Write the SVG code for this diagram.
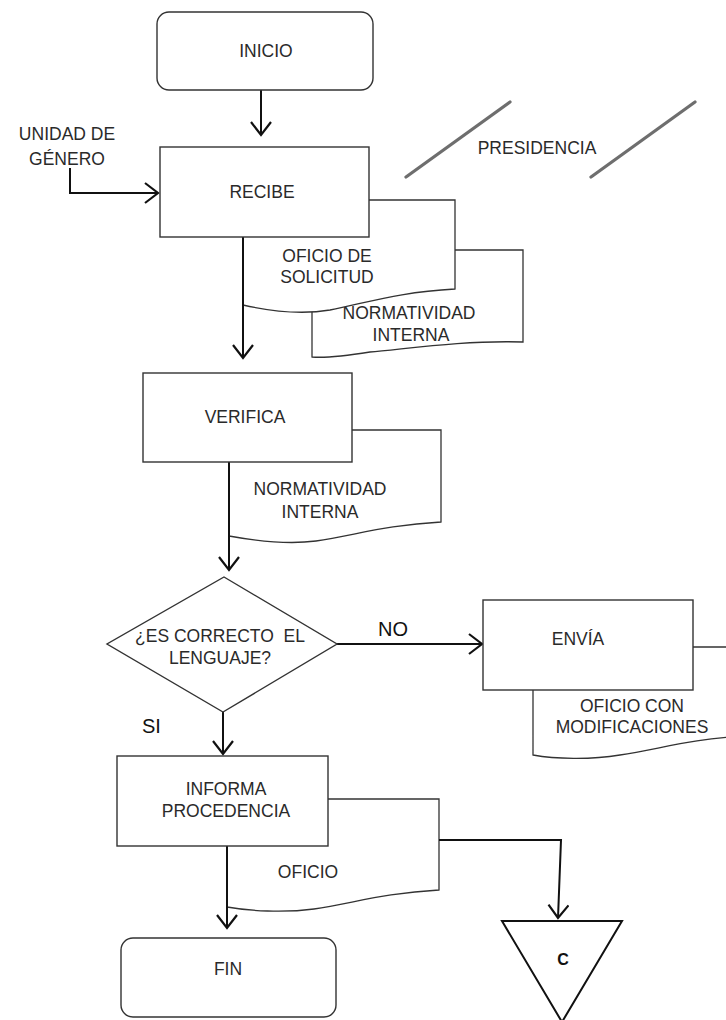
<svg xmlns="http://www.w3.org/2000/svg" width="726" height="1020" viewBox="0 0 726 1020">
  <defs>
    <style>
      .box { fill: #ffffff; stroke: #333333; stroke-width: 1.4; }
      .doc { fill: #ffffff; stroke: #333333; stroke-width: 1.3; }
      .txt { font-family: "Liberation Sans", Arial, sans-serif; font-size: 17.5px; fill: #2a2a2a; text-anchor: middle; }
      .lbl { font-family: "Liberation Sans", Arial, sans-serif; font-size: 20px; fill: #111111; }
      .conn { fill: none; stroke: #111111; stroke-width: 2; }
      .lane { stroke: #555555; stroke-width: 3.2; stroke-linecap: round; opacity: 0.85; }
    </style>
    <marker id="arrow" markerUnits="userSpaceOnUse" markerWidth="16" markerHeight="22" viewBox="0 0 16 22" refX="14" refY="11" orient="auto">
      <path d="M1,1 L14,11 L1,21" fill="none" stroke="#111111" stroke-width="2.2"/>
    </marker>
  </defs>

  <rect width="726" height="1020" fill="#ffffff"/>

  <!-- swimlane marker for PRESIDENCIA -->
  <g id="presidencia">
    <line class="lane" x1="406" y1="177" x2="510" y2="102"/>
    <line class="lane" x1="591" y1="177" x2="695" y2="102"/>
    <text class="txt" x="537" y="154">PRESIDENCIA</text>
  </g>

  <!-- external source -->
  <g id="unidad-genero">
    <text class="txt" x="67" y="140">UNIDAD DE</text>
    <text class="txt" x="67" y="165">GÉNERO</text>
  </g>

  <!-- documents (drawn behind the process boxes) -->
  <g id="doc-normatividad-1">
    <path class="doc" d="M312,250 H523 V342 C460,340 400,350 370,352 C345,356 325,358 312,357 Z"/>
    <text class="txt" x="409" y="319">NORMATIVIDAD</text>
    <text class="txt" x="411" y="341">INTERNA</text>
  </g>
  <g id="doc-oficio-solicitud">
    <path class="doc" d="M243,200 H455 V289 C400,292 370,302 330,310 C300,315 265,310 243,305 Z"/>
    <text class="txt" x="327" y="262">OFICIO DE</text>
    <text class="txt" x="327" y="283">SOLICITUD</text>
  </g>
  <g id="doc-normatividad-2">
    <path class="doc" d="M229,430 H441 V522 C386,525 356,535 316,541 C286,545 251,540 229,536 Z"/>
    <text class="txt" x="320" y="495">NORMATIVIDAD</text>
    <text class="txt" x="320" y="518">INTERNA</text>
  </g>
  <g id="doc-oficio-modificaciones">
    <path class="doc" d="M533,647 H745 V736 C690,739 660,749 620,755 C590,760 555,759 533,755 Z"/>
    <text class="txt" x="632" y="712">OFICIO CON</text>
    <text class="txt" x="632" y="733">MODIFICACIONES</text>
  </g>
  <g id="doc-oficio">
    <path class="doc" d="M227,799 H439 V890 C384,893 354,903 314,909 C284,913 249,911 227,907 Z"/>
    <text class="txt" x="308" y="878">OFICIO</text>
  </g>

  <!-- connectors -->
  <g id="connectors">
    <line class="conn" x1="261" y1="90" x2="261" y2="135" marker-end="url(#arrow)"/>
    <path class="conn" d="M70,168 V193 H158" stroke-width="3" marker-end="url(#arrow)"/>
    <line class="conn" x1="243" y1="237" x2="243" y2="358" marker-end="url(#arrow)"/>
    <line class="conn" x1="229" y1="462" x2="229" y2="570" marker-end="url(#arrow)"/>
    <line class="conn" x1="337" y1="644" x2="482" y2="644" marker-end="url(#arrow)"/>
    <line class="conn" x1="223" y1="712" x2="223" y2="754" marker-end="url(#arrow)"/>
    <line class="conn" x1="227" y1="846" x2="227" y2="928" marker-end="url(#arrow)"/>
    <path class="conn" d="M439,840 H561 L558,918" marker-end="url(#arrow)"/>
  </g>

  <g id="inicio">
    <rect class="box" x="157" y="12" width="216" height="78" rx="12"/>
    <text class="txt" x="266" y="57">INICIO</text>
  </g>

  <g id="recibe">
    <rect class="box" x="160" y="147" width="209" height="90"/>
    <text class="txt" x="262" y="198">RECIBE</text>
  </g>

  <g id="verifica">
    <rect class="box" x="143" y="373" width="209" height="89"/>
    <text class="txt" x="245" y="423">VERIFICA</text>
  </g>

  <g id="decision">
    <polygon class="box" points="224,577 337,644 223,712 107,644"/>
    <text class="txt" x="220" y="642" xml:space="preserve">¿ES CORRECTO  EL</text>
    <text class="txt" x="220" y="664">LENGUAJE?</text>
  </g>

  <g id="labels">
    <text class="lbl" x="378" y="636">NO</text>
    <text class="lbl" x="142" y="733">SI</text>
  </g>

  <g id="envia">
    <rect class="box" x="483" y="600" width="210" height="90"/>
    <text class="txt" x="578" y="645">ENVÍA</text>
  </g>

  <g id="informa">
    <rect class="box" x="117" y="756" width="211" height="90"/>
    <text class="txt" x="226" y="795">INFORMA</text>
    <text class="txt" x="226" y="817">PROCEDENCIA</text>
  </g>

  <g id="fin">
    <rect class="box" x="121" y="938" width="215" height="79" rx="12"/>
    <text class="txt" x="228" y="975">FIN</text>
  </g>

  <g id="conector-c">
    <polygon points="502,921 622,921 562,1022" fill="#ffffff" stroke="#111111" stroke-width="2"/>
    <text x="563" y="965" font-family="Liberation Sans, Arial, sans-serif" font-size="16" font-weight="bold" fill="#111111" text-anchor="middle">C</text>
  </g>
</svg>
